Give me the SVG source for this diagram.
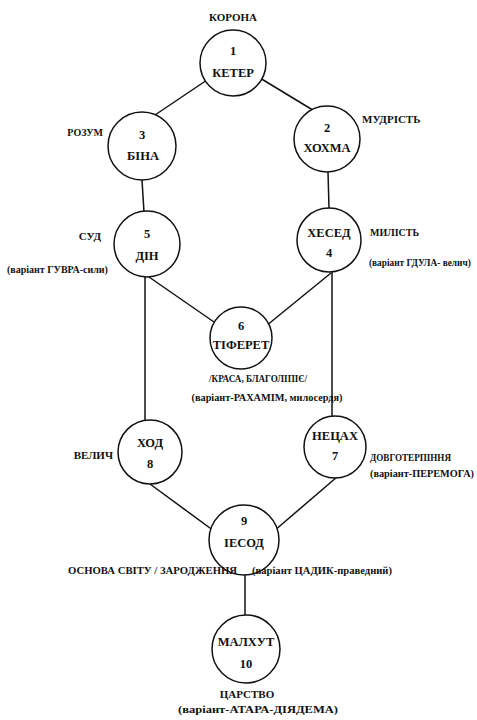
<svg xmlns="http://www.w3.org/2000/svg" width="477" height="720" viewBox="0 0 477 720">
<style>
text{font-family:"Liberation Serif","Times New Roman",serif;font-weight:bold;fill:#111;}
.n{font-size:12.5px;text-anchor:middle;}
.l{font-size:11px;}
.m{font-size:10px;}
.s{font-size:10.3px;}
.t{font-size:9.3px;}
.c{text-anchor:middle;}
.e{text-anchor:end;}
circle{fill:#fff;stroke:#111;stroke-width:1.5;}
line{stroke:#111;stroke-width:1.5;}
</style>
<rect width="477" height="720" fill="#fff"/>
<g id="connectors">
<line x1="207" y1="80" x2="152" y2="117"/>
<line x1="260" y1="78" x2="316" y2="112"/>
<line x1="142" y1="180" x2="144" y2="212"/>
<line x1="328" y1="172" x2="329" y2="208"/>
<line x1="145" y1="277" x2="145" y2="421"/>
<line x1="332" y1="272" x2="332" y2="417"/>
<line x1="149" y1="277" x2="214" y2="322"/>
<line x1="331" y1="273" x2="266" y2="326"/>
<line x1="150" y1="484" x2="214" y2="531"/>
<line x1="337" y1="477" x2="274" y2="531"/>
<line x1="245" y1="575" x2="245" y2="616"/>
</g>
<g id="n1"><circle cx="233" cy="63" r="33"/><text class="n" x="233" y="55">1</text><text class="n" x="233" y="77">КЕТЕР</text><text class="l c" x="233" y="21">КОРОНА</text></g>
<g id="n3"><circle cx="142" cy="146" r="34"/><text class="n" x="142" y="139">3</text><text class="n" x="143" y="160">БІНА</text><text class="m e" x="103" y="136">РОЗУМ</text></g>
<g id="n2"><circle cx="327" cy="139" r="33"/><text class="n" x="327" y="132">2</text><text class="n" x="327" y="152">ХОХМА</text><text class="l" x="362" y="123">МУДРІСТЬ</text></g>
<g id="n5"><circle cx="147" cy="244" r="33"/><text class="n" x="147" y="238">5</text><text class="n" x="147" y="260">ДІН</text><text class="l e" x="101" y="240">СУД</text><text class="m" x="7" y="273">(варіант ГУВРА-сили)</text></g>
<g id="n4"><circle cx="329" cy="240" r="32"/><text class="n" x="329" y="237">ХЕСЕД</text><text class="n" x="329" y="257">4</text><text class="m" x="370" y="236">МИЛІСТЬ</text><text class="t" x="369" y="266">(варіант ГДУЛА- велич)</text></g>
<g id="n6"><circle cx="241" cy="338" r="31"/><text class="n" x="241" y="330">6</text><text class="n" x="241" y="349">ТІФЕРЕТ</text><text class="m c" x="258" y="382" textLength="98" lengthAdjust="spacingAndGlyphs">/КРАСА, БЛАГОЛІПІЄ/</text><text class="s c" x="267" y="401" textLength="151" lengthAdjust="spacingAndGlyphs">(варіант-РАХАМІМ, милосердя)</text></g>
<g id="n8"><circle cx="150" cy="452" r="32"/><text class="n" x="150" y="447">ХОД</text><text class="n" x="150" y="468">8</text><text class="l e" x="113" y="459">ВЕЛИЧ</text></g>
<g id="n7"><circle cx="335" cy="447" r="31"/><text class="n" x="335" y="440">НЕЦАХ</text><text class="n" x="335" y="460">7</text><text class="m" x="370" y="461" textLength="81" lengthAdjust="spacingAndGlyphs">ДОВГОТЕРПІННЯ</text><text class="s" x="370" y="477" textLength="104" lengthAdjust="spacingAndGlyphs">(варіант-ПЕРЕМОГА)</text></g>
<g id="n9"><circle cx="244" cy="540" r="35"/><text class="n" x="244" y="525">9</text><text class="n" x="244" y="547">ІЕСОД</text><text class="s e" x="237" y="574" textLength="169" lengthAdjust="spacingAndGlyphs">ОСНОВА СВІТУ / ЗАРОДЖЕННЯ</text><text class="s" x="252" y="574" textLength="140" lengthAdjust="spacingAndGlyphs">(варіант ЦАДИК-праведний)</text></g>
<g id="n10"><circle cx="246" cy="649" r="34"/><text class="n" x="246" y="646">МАЛХУТ</text><text class="n" x="246" y="668">10</text><text class="l c" x="247" y="698">ЦАРСТВО</text><text class="s c" x="258" y="713" textLength="160" lengthAdjust="spacingAndGlyphs">(варіант-АТАРА-ДІЯДЕМА)</text></g>
</svg>
